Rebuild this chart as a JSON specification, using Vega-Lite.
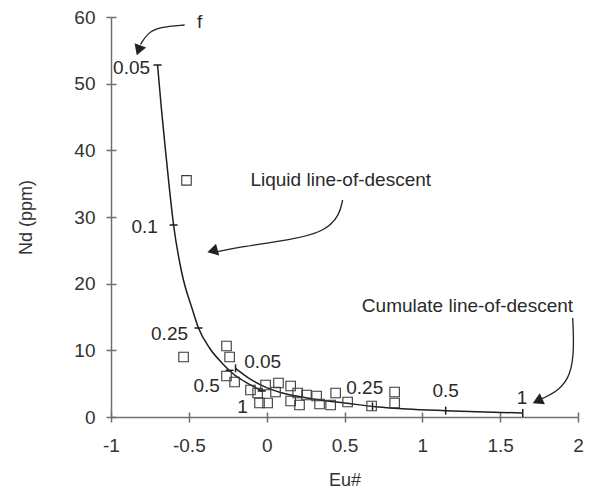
{
  "$schema": "https://vega.github.io/schema/vega-lite/v6.json",
  "width": 467,
  "height": 400,
  "autosize": "none",
  "padding": {"left": 111, "top": 17, "right": 18, "bottom": 77},
  "background": "white",
  "config": {
    "font": "Liberation Sans",
    "view": {"stroke": null},
    "axis": {
      "grid": false,
      "domainColor": "#6f6f6f",
      "domainWidth": 1.5,
      "tickColor": "#6f6f6f",
      "tickWidth": 1.5,
      "labelColor": "#333333",
      "labelFontSize": 19,
      "titleColor": "#333333",
      "titleFontSize": 18,
      "titleFontWeight": "normal"
    }
  },
  "resolve": {"axis": {"x": "independent", "y": "independent"}},
  "datasets": {
    "liquid": [
      {"eu": -0.701, "nd": 52.8},
      {"eu": -0.676, "nd": 46.2},
      {"eu": -0.650, "nd": 40.0},
      {"eu": -0.624, "nd": 34.1},
      {"eu": -0.598, "nd": 28.8},
      {"eu": -0.545, "nd": 21.6},
      {"eu": -0.476, "nd": 16.05},
      {"eu": -0.438, "nd": 13.35},
      {"eu": -0.367, "nd": 10.35},
      {"eu": -0.283, "nd": 8.0},
      {"eu": -0.206, "nd": 6.3},
      {"eu": -0.110, "nd": 4.9},
      {"eu": -0.032, "nd": 3.9}
    ],
    "cumulate": [
      {"eu": -0.200, "nd": 7.3},
      {"eu": -0.100, "nd": 5.6},
      {"eu": 0.000, "nd": 4.4},
      {"eu": 0.100, "nd": 3.6},
      {"eu": 0.200, "nd": 3.1},
      {"eu": 0.350, "nd": 2.5},
      {"eu": 0.500, "nd": 2.1},
      {"eu": 0.700, "nd": 1.55},
      {"eu": 0.900, "nd": 1.2},
      {"eu": 1.150, "nd": 0.95},
      {"eu": 1.400, "nd": 0.75},
      {"eu": 1.645, "nd": 0.6}
    ],
    "samples": [
      {"eu": -0.515, "nd": 35.5},
      {"eu": -0.534, "nd": 9.0},
      {"eu": -0.258, "nd": 10.65},
      {"eu": -0.238, "nd": 9.0},
      {"eu": -0.258, "nd": 6.15},
      {"eu": -0.206, "nd": 5.25},
      {"eu": -0.104, "nd": 4.05},
      {"eu": -0.058, "nd": 3.6},
      {"eu": -0.046, "nd": 2.1},
      {"eu": 0.006, "nd": 2.1},
      {"eu": -0.007, "nd": 4.8},
      {"eu": 0.076, "nd": 5.1},
      {"eu": 0.057, "nd": 3.75},
      {"eu": 0.154, "nd": 4.65},
      {"eu": 0.154, "nd": 2.4},
      {"eu": 0.211, "nd": 1.8},
      {"eu": 0.199, "nd": 3.6},
      {"eu": 0.256, "nd": 3.3},
      {"eu": 0.321, "nd": 3.15},
      {"eu": 0.340, "nd": 1.95},
      {"eu": 0.411, "nd": 1.8},
      {"eu": 0.443, "nd": 3.6},
      {"eu": 0.520, "nd": 2.25},
      {"eu": 0.674, "nd": 1.65},
      {"eu": 0.822, "nd": 3.75},
      {"eu": 0.822, "nd": 2.1}
    ],
    "liquidTicks": [
      {"eu": -0.701, "nd": 52.8},
      {"eu": -0.598, "nd": 28.8},
      {"eu": -0.438, "nd": 13.35},
      {"eu": -0.238, "nd": 7.0},
      {"eu": -0.032, "nd": 3.9}
    ],
    "cumulateTicks": [
      {"eu": -0.200, "nd": 7.3},
      {"eu": 0.680, "nd": 1.6},
      {"eu": 1.150, "nd": 0.95},
      {"eu": 1.645, "nd": 0.6}
    ],
    "fLabels": [
      {"eu": -0.868, "nd": 52.3, "f": "0.05"},
      {"eu": -0.784, "nd": 28.5, "f": "0.1"},
      {"eu": -0.624, "nd": 12.4, "f": "0.25"},
      {"eu": -0.386, "nd": 4.65, "f": "0.5"},
      {"eu": -0.155, "nd": 1.5, "f": "1"},
      {"eu": -0.026, "nd": 8.25, "f": "0.05"},
      {"eu": 0.630, "nd": 4.35, "f": "0.25"},
      {"eu": 1.150, "nd": 3.9, "f": "0.5"},
      {"eu": 1.640, "nd": 2.85, "f": "1"}
    ],
    "notes": [
      {"eu": -0.431, "nd": 59.2, "text": "f"},
      {"eu": 0.476, "nd": 35.5, "text": "Liquid line-of-descent"},
      {"eu": 1.290, "nd": 16.6, "text": "Cumulate line-of-descent"}
    ],
    "arrows": [
      {"arrow": "f", "i": 0, "eu": -0.527, "nd": 58.8},
      {"arrow": "f", "i": 1, "eu": -0.688, "nd": 58.5},
      {"arrow": "f", "i": 2, "eu": -0.765, "nd": 57.6},
      {"arrow": "f", "i": 3, "eu": -0.810, "nd": 55.9},
      {"arrow": "liquid", "i": 0, "eu": 0.488, "nd": 32.55},
      {"arrow": "liquid", "i": 1, "eu": 0.469, "nd": 30.3},
      {"arrow": "liquid", "i": 2, "eu": 0.372, "nd": 27.75},
      {"arrow": "liquid", "i": 3, "eu": 0.147, "nd": 26.55},
      {"arrow": "liquid", "i": 4, "eu": -0.174, "nd": 25.5},
      {"arrow": "liquid", "i": 5, "eu": -0.335, "nd": 24.7},
      {"arrow": "cumulate", "i": 0, "eu": 1.966, "nd": 14.85},
      {"arrow": "cumulate", "i": 1, "eu": 1.975, "nd": 10.05},
      {"arrow": "cumulate", "i": 2, "eu": 1.953, "nd": 6.3},
      {"arrow": "cumulate", "i": 3, "eu": 1.882, "nd": 4.05},
      {"arrow": "cumulate", "i": 4, "eu": 1.770, "nd": 2.75}
    ],
    "headF": [{"eu": -0.823, "nd": 55.0}],
    "headLiquid": [{"eu": -0.348, "nd": 24.9}],
    "headCumulate": [{"eu": 1.740, "nd": 2.4}]
  },
  "encoding": {
    "x": {
      "field": "eu", "type": "quantitative",
      "scale": {"domain": [-1, 2], "nice": false, "zero": false},
      "axis": null
    },
    "y": {
      "field": "nd", "type": "quantitative",
      "scale": {"domain": [0, 60], "nice": false},
      "axis": null
    }
  },
  "layer": [
    {
      "data": {"name": "liquid"},
      "mark": {"type": "line", "color": "#1e1e1e", "strokeWidth": 1.5, "interpolate": "monotone"},
      "encoding": {
        "x": {
          "field": "eu", "type": "quantitative",
          "axis": {"orient": "bottom", "title": "Eu#", "values": [-1, -0.5, 0, 0.5, 1, 1.5, 2], "labelExpr": "'' + datum.value", "tickSize": 5, "labelPadding": 14, "titlePadding": 16, "labelFlush": false, "labelOverlap": false}
        },
        "y": {
          "field": "nd", "type": "quantitative",
          "axis": {"orient": "left", "title": "Nd (ppm)", "values": [0, 10, 20, 30, 40, 50, 60], "tickSize": 5, "labelPadding": 11, "titlePadding": 38, "labelFlush": false}
        }
      }
    },
    {
      "data": {"name": "cumulate"},
      "mark": {"type": "line", "color": "#1e1e1e", "strokeWidth": 1.5, "interpolate": "monotone"},
      "encoding": {
        "x": {
          "field": "eu", "type": "quantitative",
          "axis": {"orient": "bottom", "title": null, "labels": false, "domain": false, "values": [-1, -0.5, 0, 0.5, 1, 1.5, 2], "tickSize": -5}
        },
        "y": {
          "field": "nd", "type": "quantitative",
          "axis": {"orient": "left", "title": null, "labels": false, "domain": false, "values": [0, 10, 20, 30, 40, 50, 60], "tickSize": -5}
        }
      }
    },
    {
      "data": {"name": "samples"},
      "mark": {"type": "point", "shape": "square", "filled": false, "size": 90, "color": "#3a3a3a", "strokeWidth": 1.1, "opacity": 1}
    },
    {
      "data": {"name": "liquidTicks"},
      "mark": {"type": "point", "shape": "stroke", "size": 64, "color": "#1e1e1e", "strokeWidth": 1.5, "opacity": 1, "angle": 0}
    },
    {
      "data": {"name": "cumulateTicks"},
      "mark": {"type": "point", "shape": "stroke", "size": 64, "color": "#1e1e1e", "strokeWidth": 1.5, "opacity": 1, "angle": 90}
    },
    {
      "data": {"name": "fLabels"},
      "mark": {"type": "text", "fontSize": 19, "color": "#2a2a2a", "align": "center", "baseline": "middle"},
      "encoding": {"text": {"field": "f"}}
    },
    {
      "data": {"name": "notes"},
      "mark": {"type": "text", "fontSize": 19, "color": "#2a2a2a", "align": "center", "baseline": "middle"},
      "encoding": {"text": {"field": "text"}}
    },
    {
      "data": {"name": "arrows"},
      "mark": {"type": "line", "color": "#222222", "strokeWidth": 1.3, "interpolate": "basis"},
      "encoding": {"detail": {"field": "arrow"}, "order": {"field": "i"}}
    },
    {
      "data": {"name": "headF"},
      "mark": {"type": "point", "shape": "triangle-up", "filled": true, "size": 150, "color": "#222222", "opacity": 1, "angle": 200}
    },
    {
      "data": {"name": "headLiquid"},
      "mark": {"type": "point", "shape": "triangle-up", "filled": true, "size": 150, "color": "#222222", "opacity": 1, "angle": 255}
    },
    {
      "data": {"name": "headCumulate"},
      "mark": {"type": "point", "shape": "triangle-up", "filled": true, "size": 150, "color": "#222222", "opacity": 1, "angle": 245}
    }
  ]
}
